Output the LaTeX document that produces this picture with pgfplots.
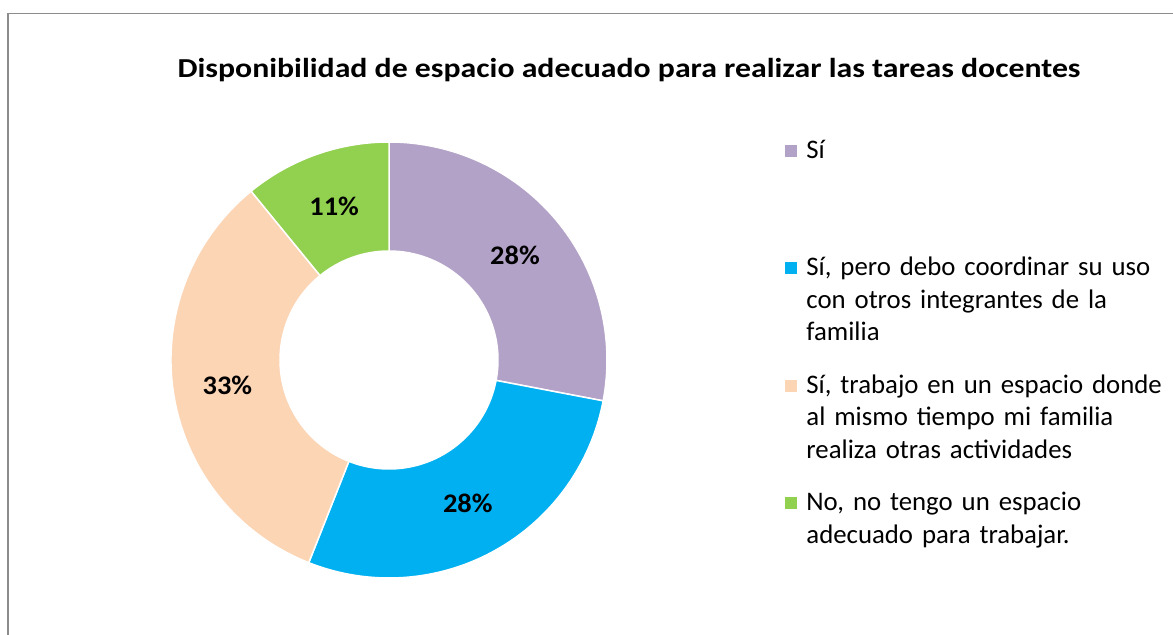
\documentclass[border=0pt]{standalone}
\usepackage{pgfplots}
\pgfplotsset{compat=1.18}
\usepackage{pgfplotstable}
\usepackage{fontspec}
\setmainfont{Carlito}
\definecolor{cSi}{HTML}{B3A2C7}
\definecolor{cPero}{HTML}{00B0F0}
\definecolor{cTrab}{HTML}{FCD5B5}
\definecolor{cNo}{HTML}{92D050}
\definecolor{cFrame}{HTML}{8C8C8C}

% share of answers (%), clockwise from the top
\pgfplotstableread{
share
28.0
28.0
33.1
10.9
}\donutdata

\newcommand\chartfont{\fontsize{26.8bp}{32.6bp}\selectfont}

\begin{document}
\begin{tikzpicture}
\pgfplotstablegetelem{0}{share}\of\donutdata \pgfmathsetmacro\vA{\pgfplotsretval}
\pgfplotstablegetelem{1}{share}\of\donutdata \pgfmathsetmacro\vB{\pgfplotsretval}
\pgfplotstablegetelem{2}{share}\of\donutdata \pgfmathsetmacro\vC{\pgfplotsretval}
\pgfplotstablegetelem{3}{share}\of\donutdata \pgfmathsetmacro\vD{\pgfplotsretval}
% boundary angles (clockwise from 90 degrees)
\pgfmathsetmacro\aA{90}
\pgfmathsetmacro\aB{\aA-3.6*\vA}
\pgfmathsetmacro\aC{\aB-3.6*\vB}
\pgfmathsetmacro\aD{\aC-3.6*\vC}
\pgfmathsetmacro\aE{\aD-3.6*\vD}
% outer (r=1) and inner (r=0.5) boundary points
\pgfmathsetmacro\oxA{cos(\aA)}\pgfmathsetmacro\oyA{sin(\aA)}
\pgfmathsetmacro\oxB{cos(\aB)}\pgfmathsetmacro\oyB{sin(\aB)}
\pgfmathsetmacro\oxC{cos(\aC)}\pgfmathsetmacro\oyC{sin(\aC)}
\pgfmathsetmacro\oxD{cos(\aD)}\pgfmathsetmacro\oyD{sin(\aD)}
\pgfmathsetmacro\ixA{0.5*cos(\aA)}\pgfmathsetmacro\iyA{0.5*sin(\aA)}
\pgfmathsetmacro\ixB{0.5*cos(\aB)}\pgfmathsetmacro\iyB{0.5*sin(\aB)}
\pgfmathsetmacro\ixC{0.5*cos(\aC)}\pgfmathsetmacro\iyC{0.5*sin(\aC)}
\pgfmathsetmacro\ixD{0.5*cos(\aD)}\pgfmathsetmacro\iyD{0.5*sin(\aD)}
\pgfmathsetmacro\ixE{0.5*cos(\aE)}\pgfmathsetmacro\iyE{0.5*sin(\aE)}
% label positions (middle of the ring)
\pgfmathsetmacro\xA{0.75*cos((\aA+\aB)/2)}\pgfmathsetmacro\yA{0.75*sin((\aA+\aB)/2)}
\pgfmathsetmacro\xB{0.75*cos((\aB+\aC)/2)}\pgfmathsetmacro\yB{0.75*sin((\aB+\aC)/2)}
\pgfmathsetmacro\xC{0.75*cos((\aC+\aD)/2)}\pgfmathsetmacro\yC{0.75*sin((\aC+\aD)/2)}
\pgfmathsetmacro\xD{0.75*cos((\aD+\aE)/2)}\pgfmathsetmacro\yD{0.75*sin((\aD+\aE)/2)}

\begin{axis}[
  at={(389bp,275bp)}, anchor=center,
  scale only axis, width=436bp, height=436bp,
  xmin=-1, xmax=1, ymin=-1, ymax=1,
  hide axis, clip=false,
  legend image code/.code={\fill[#1] (0bp,1.5bp) rectangle (12bp,13.5bp);},
  legend style={draw=none, fill=none, inner sep=0pt, outer sep=0pt,
    at={(axis description cs:1.4083,1.0085)}, anchor=north west,
    row sep=97.4bp, column sep=9.4bp,
    font=\chartfont,
    cells={anchor=base west},
    nodes={text width=370bp, align=left, text height=20bp, text depth=0pt, inner sep=0pt, anchor=base west}},
]
\fill[cSi, draw=white, line width=1.5bp] (axis cs:\oxA,\oyA) arc[start angle=\aA, end angle=\aB, radius=218bp] -- (axis cs:\ixB,\iyB) arc[start angle=\aB, end angle=\aA, radius=109bp] -- cycle;
\fill[cPero, draw=white, line width=1.5bp] (axis cs:\oxB,\oyB) arc[start angle=\aB, end angle=\aC, radius=218bp] -- (axis cs:\ixC,\iyC) arc[start angle=\aC, end angle=\aB, radius=109bp] -- cycle;
\fill[cTrab, draw=white, line width=1.5bp] (axis cs:\oxC,\oyC) arc[start angle=\aC, end angle=\aD, radius=218bp] -- (axis cs:\ixD,\iyD) arc[start angle=\aD, end angle=\aC, radius=109bp] -- cycle;
\fill[cNo, draw=white, line width=1.5bp] (axis cs:\oxD,\oyD) arc[start angle=\aD, end angle=\aE, radius=218bp] -- (axis cs:\ixE,\iyE) arc[start angle=\aE, end angle=\aD, radius=109bp] -- cycle;

\node[font=\chartfont\bfseries, xscale=1.06, transform shape] at (axis cs:\xA,\yA) {\pgfmathprintnumber[fixed,precision=0,assume math mode=true]{\vA}\%};
\node[font=\chartfont\bfseries, xscale=1.06, transform shape] at (axis cs:\xB,\yB) {\pgfmathprintnumber[fixed,precision=0,assume math mode=true]{\vB}\%};
\node[font=\chartfont\bfseries, xscale=1.06, transform shape] at (axis cs:\xC,\yC) {\pgfmathprintnumber[fixed,precision=0,assume math mode=true]{\vC}\%};
\node[font=\chartfont\bfseries, xscale=1.06, transform shape] at (axis cs:\xD,\yD) {\pgfmathprintnumber[fixed,precision=0,assume math mode=true]{\vD}\%};

\addlegendimage{fill=cSi, draw=none}
\addlegendentry{Sí}
\addlegendimage{fill=cPero, draw=none}
\addlegendentry{Sí, pero debo coordinar su uso\\con otros integrantes de la\\familia}
\addlegendimage{fill=cTrab, draw=none}
\addlegendentry{Sí, trabajo en un espacio donde\\al mismo tiempo mi familia\\realiza otras actividades}
\addlegendimage{fill=cNo, draw=none}
\addlegendentry{No, no tengo un espacio\\adecuado para trabajar.}
\end{axis}

\node[font=\fontsize{27.4bp}{32bp}\selectfont\bfseries, anchor=base, xscale=1.16, transform shape] at (629bp,557.7bp)
  {Disponibilidad de espacio adecuado para realizar las tareas docentes};

\draw[cFrame, line width=1.3bp] (8bp,-20bp) -- (8bp,621.5bp) -- (1200bp,621.5bp);

\pgfresetboundingbox
\useasboundingbox (0,0) rectangle (1173bp,635bp);
\end{tikzpicture}
\end{document}
